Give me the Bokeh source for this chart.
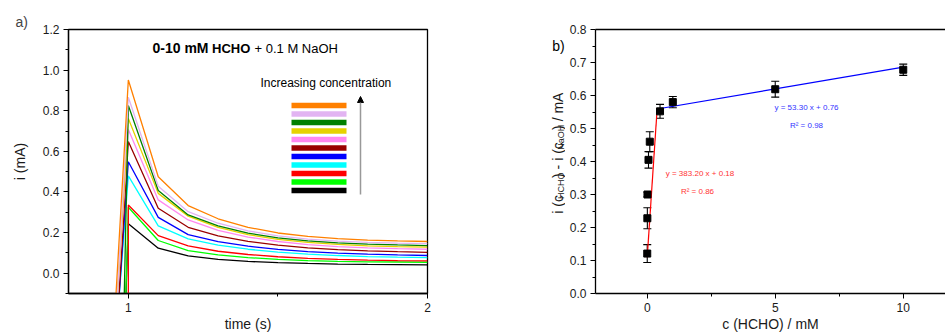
import math
from bokeh.plotting import figure
from bokeh.layouts import row
from bokeh.models import (FixedTicker, PrintfTickFormatter, Label, Arrow, NormalHead,
                          Whisker, TeeHead, ColumnDataSource, LinearAxis)
from bokeh.core.properties import value
from bokeh.embed import file_html
from bokeh.resources import INLINE

FONT = "Liberation Sans"

# ---------------- data: panel a) chronoamperometry ----------------
time_s = [1.0, 1.1, 1.2, 1.3, 1.4, 1.5, 1.6, 1.7, 1.8, 1.9, 2.0]
series_colors = ["#FF8000", "#E2B4F2", "#008000", "#E6D200", "#FF88F0", "#990000",
                 "#0000FF", "#00FFFF", "#FF0000", "#00FF00", "#000000"]
pre_time = [0.955, 0.96, 0.985, 0.96, 0.96, 0.965, 0.965, 0.965, 1.0, 0.99, 0.99]
pre_current = [-0.2, -0.2, -0.2, -0.2, -0.2, -0.2, -0.2, -0.2, -0.2, -0.2, -0.2]
i_orange = [0.951, 0.475, 0.333, 0.268, 0.226, 0.198, 0.181, 0.170, 0.163, 0.159, 0.156]
i_plum = [0.866, 0.428, 0.303, 0.246, 0.208, 0.184, 0.168, 0.158, 0.152, 0.148, 0.146]
i_dgreen = [0.826, 0.407, 0.287, 0.233, 0.197, 0.174, 0.159, 0.149, 0.143, 0.139, 0.136]
i_gold = [0.762, 0.393, 0.281, 0.226, 0.190, 0.167, 0.152, 0.142, 0.135, 0.131, 0.128]
i_pink = [0.708, 0.361, 0.262, 0.211, 0.178, 0.156, 0.141, 0.131, 0.125, 0.121, 0.118]
i_dred = [0.648, 0.320, 0.226, 0.184, 0.157, 0.138, 0.125, 0.116, 0.110, 0.106, 0.103]
i_blue = [0.549, 0.275, 0.190, 0.155, 0.133, 0.117, 0.106, 0.099, 0.094, 0.090, 0.087]
i_cyan = [0.479, 0.233, 0.169, 0.138, 0.118, 0.104, 0.094, 0.087, 0.082, 0.079, 0.077]
i_red = [0.336, 0.185, 0.134, 0.108, 0.092, 0.081, 0.073, 0.068, 0.064, 0.062, 0.061]
i_lime = [0.325, 0.161, 0.111, 0.090, 0.077, 0.068, 0.062, 0.058, 0.056, 0.055, 0.054]
i_black = [0.243, 0.123, 0.085, 0.068, 0.058, 0.052, 0.048, 0.045, 0.043, 0.042, 0.041]
series_values = [i_orange, i_plum, i_dgreen, i_gold, i_pink, i_dred,
                 i_blue, i_cyan, i_red, i_lime, i_black]
a_xticks = [1, 2]
a_xminor = [1.5]
a_yticks = [0.0, 0.2, 0.4, 0.6, 0.8, 1.0, 1.2]
a_yminor = [-0.1, 0.1, 0.3, 0.5, 0.7, 0.9, 1.1]

# ---------------- data: panel b) calibration ----------------
conc_mM = [0.001, 0.005, 0.01, 0.05, 0.1, 0.5, 1.0, 5.0, 10.0]
delta_i = [0.121, 0.228, 0.300, 0.405, 0.460, 0.552, 0.580, 0.619, 0.678]
delta_err = [0.027, 0.032, 0.007, 0.025, 0.030, 0.021, 0.017, 0.024, 0.017]
fit_low_x = [0.0, 0.39]
fit_low_y = [0.11, 0.562]
fit_high_x = [0.39, 10.0]
fit_high_y = [0.559, 0.686]
b_xticks = [0, 5, 10]
b_xminor = [2.5, 7.5]
b_yticks = [0.0, 0.1, 0.2, 0.3, 0.4, 0.5, 0.6, 0.7, 0.8]
b_yminor = [0.05, 0.15, 0.25, 0.35, 0.45, 0.55, 0.65, 0.75]

# ---------------- layout helpers (screen px -> data) ----------------
A_X0, A_X1, A_Y0, A_Y1 = 0.8, 2.0, -0.1, 1.2
B_X0, B_X1, B_Y0, B_Y1 = -2.02, 11.65, 0.0, 0.8
FRAME_H = 264


def lx(sx):
    return A_X0 + (sx - 68) * (A_X1 - A_X0) / 359


def ly(sy):
    return A_Y1 - (sy - 29) * (A_Y1 - A_Y0) / FRAME_H


def rx(sx):
    return B_X0 + (sx - 595) * (B_X1 - B_X0) / 350


def ry(sy):
    return B_Y1 - (sy - 29) * (B_Y1 - B_Y0) / FRAME_H


def style_axes(p, xt, xm, yt, ym):
    for ax in (p.xaxis[0], p.yaxis[0]):
        ax.axis_line_width = 1.3
        ax.axis_line_color = "black"
        ax.major_tick_out = 5
        ax.major_tick_in = 0
        ax.minor_tick_out = 3
        ax.minor_tick_in = 0
        ax.major_tick_line_color = "black"
        ax.minor_tick_line_color = "black"
        ax.major_label_text_font = FONT
        ax.major_label_text_font_size = "12px"
        ax.major_label_text_color = "#1a1a1a"
        ax.major_label_standoff = 4
        ax.axis_label_text_font = FONT
        ax.axis_label_text_font_size = "14px"
        ax.axis_label_text_font_style = "normal"
        ax.axis_label_text_color = "#1a1a1a"
    p.xaxis[0].ticker = FixedTicker(ticks=xt, minor_ticks=xm)
    p.yaxis[0].ticker = FixedTicker(ticks=yt, minor_ticks=ym)
    p.yaxis[0].formatter = PrintfTickFormatter(format="%.1f")
    p.xaxis[0].major_label_standoff = 4
    p.xaxis[0].axis_label_standoff = 1
    p.xgrid.visible = False
    p.ygrid.visible = False


def add_label(p, x, y, text, size, color="black", align="left", baseline="middle",
              style="normal"):
    p.add_layout(Label(x=x, y=y, text=text, text_font=FONT, text_font_size=size,
                       text_color=color, text_align=align, text_baseline=baseline,
                       text_font_style=style))


# ---------------- panel a ----------------
pa = figure(width=470, height=334, x_range=(A_X0, A_X1), y_range=(A_Y0, A_Y1),
            output_backend="svg", toolbar_location=None,
            min_border_left=68, min_border_right=43, min_border_top=29, min_border_bottom=41)
pa.outline_line_color = "black"
pa.outline_line_width = 1.3
style_axes(pa, a_xticks, a_xminor, a_yticks, a_yminor)
pa.yaxis[0].axis_label = "i (mA)"
pa.yaxis[0].axis_label_standoff = 12
pa.xaxis[0].axis_label = "time (s)"
pa.title.text = "a)"
pa.title.align = "left"
pa.title.offset = -53
pa.title.standoff = 0
pa.title.text_font = FONT
pa.title.text_font_size = "14px"
pa.title.text_font_style = "normal"

for vals, col, t0, i0 in reversed(list(zip(series_values, series_colors, pre_time, pre_current))):
    pa.line([t0] + time_s, [i0] + vals, line_color=col, line_width=1.3)

# colour key (top = highest concentration)
n = len(series_colors)
key_y = [ly(105 + k * 8.5) for k in range(n)]
pa.segment(x0=[lx(291)] * n, x1=[lx(346)] * n, y0=key_y, y1=key_y,
           line_color=series_colors, line_width=5.5, line_cap="butt")

pa.add_layout(Arrow(end=NormalHead(size=6, fill_color="black", line_color="black"),
                    x_start=lx(360), y_start=ly(194), x_end=lx(360), y_end=ly(96),
                    line_color="#999999", line_width=1.5))

add_label(pa, lx(152), ly(47.5), "0-10 mM", "14px", baseline="alphabetic", style="bold")
add_label(pa, lx(211.5), ly(47.5), "HCHO", "13px", baseline="alphabetic", style="bold")
add_label(pa, lx(254), ly(47.5), "+ 0.1 M NaOH", "13px", baseline="alphabetic")
add_label(pa, lx(260), ly(82), "Increasing concentration", "12px")

# ---------------- strip holding panel b's y title and "b)" ----------------
STRIP_W = 95
ps = figure(width=STRIP_W, height=334, x_range=(0, STRIP_W), y_range=(0, 334),
            output_backend="svg", toolbar_location=None,
            x_axis_location=None, y_axis_location=None, min_border=0)
ps.outline_line_color = None
ps.xgrid.visible = False
ps.ygrid.visible = False
pieces = [("i (c", False, 18.7), ("HCHO", True, 26.5), (") - i (c", False, 35.8),
          ("NaOH", True, 25.0), (") / mA", False, 37.4)]
sy = 233.0
for txt, sub, w in pieces:
    ps.text(x=[(560.5 if sub else 557.0) - 470], y=[334 - sy], text=[txt],
            angle=math.pi / 2, text_font=value(FONT),
            text_font_size="9px" if sub else "14px", text_color="#1a1a1a",
            text_align="left", text_baseline="alphabetic")
    sy -= w
ps.text(x=[551.7 - 470], y=[334 - 21], text=["b)"], text_font=value(FONT),
        text_font_size="14px", text_align="left", text_baseline="middle")

# ---------------- panel b ----------------
pb = figure(width=945 - 470 - STRIP_W, height=334, x_range=(B_X0, B_X1), y_range=(B_Y0, B_Y1),
            output_backend="svg", toolbar_location=None,
            min_border_left=595 - 470 - STRIP_W, min_border_right=0,
            min_border_top=29, min_border_bottom=41)
pb.outline_line_color = None
style_axes(pb, b_xticks, b_xminor, b_yticks, b_yminor)
pb.xaxis[0].axis_label = "c (HCHO) / mM"
top_axis = LinearAxis(ticker=FixedTicker(ticks=[], minor_ticks=[]),
                      major_label_text_font_size="0px", axis_line_width=1.3,
                      major_tick_out=0, minor_tick_out=0, major_label_standoff=0)
pb.add_layout(top_axis, "above")

pb.line(fit_low_x, fit_low_y, line_color="#FF0000", line_width=1.2)
pb.line(fit_high_x, fit_high_y, line_color="#0000FF", line_width=1.2)

src = ColumnDataSource(dict(x=conc_mM, y=delta_i,
                            upper=[v + e for v, e in zip(delta_i, delta_err)],
                            lower=[v - e for v, e in zip(delta_i, delta_err)]))
pb.add_layout(Whisker(source=src, base="x", upper="upper", lower="lower", dimension="height",
                      line_color="black", line_width=1.1,
                      upper_head=TeeHead(size=8, line_color="black", line_width=1.1),
                      lower_head=TeeHead(size=8, line_color="black", line_width=1.1)))
pb.scatter("x", "y", source=src, marker="square", size=7, color="black")

add_label(pb, rx(806), ry(107), "y = 53.30 x + 0.76", "8px", color="#3333FF", align="center")
add_label(pb, rx(806), ry(125), "R² = 0.98", "8px", color="#3333FF", align="center")
add_label(pb, rx(699.5), ry(172.7), "y = 383.20 x + 0.18", "8px", color="#FF3333", align="center")
add_label(pb, rx(697), ry(191.3), "R² = 0.86", "8px", color="#FF3333", align="center")

layout = row(pa, ps, pb)
open("out.html", "w").write(file_html(layout, INLINE))
